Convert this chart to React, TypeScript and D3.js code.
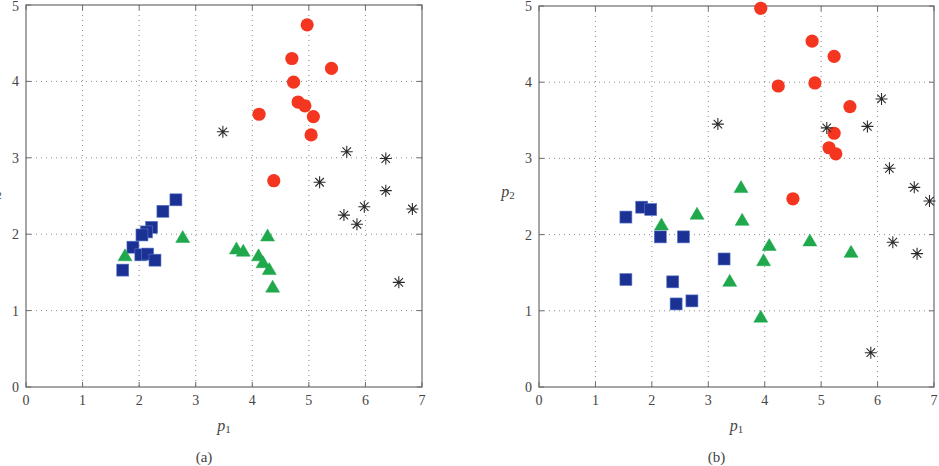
import React from "react";
import * as d3 from "d3";

// ---------- data ----------
const xTicks = [0, 1, 2, 3, 4, 5, 6, 7];
const yTicks = [0, 1, 2, 3, 4, 5];

// panel (a)
const redAx = [4.97, 4.70, 5.40, 4.73, 4.81, 4.93, 5.08, 4.12, 5.04, 4.38];
const redAy = [4.74, 4.30, 4.17, 3.99, 3.73, 3.68, 3.54, 3.57, 3.30, 2.70];
const starAx = [3.48, 5.67, 6.36, 5.19, 6.36, 5.98, 6.83, 5.62, 5.85, 6.59];
const starAy = [3.34, 3.08, 2.99, 2.68, 2.57, 2.36, 2.33, 2.25, 2.13, 1.37];
const blueAx = [2.65, 2.42, 2.22, 2.13, 2.05, 1.89, 2.03, 2.15, 2.28, 1.71];
const blueAy = [2.45, 2.30, 2.09, 2.03, 1.99, 1.83, 1.73, 1.74, 1.66, 1.53];
const greenAx = [1.75, 2.77, 4.27, 3.72, 3.84, 4.11, 4.19, 4.30, 4.36];
const greenAy = [1.73, 1.97, 1.99, 1.82, 1.79, 1.73, 1.64, 1.55, 1.32];

// panel (b)
const redBx = [3.93, 4.84, 5.23, 4.24, 4.89, 5.51, 5.23, 5.14, 5.26, 4.50];
const redBy = [4.97, 4.54, 4.34, 3.95, 3.99, 3.68, 3.33, 3.14, 3.06, 2.47];
const starBx = [3.17, 6.07, 5.10, 5.82, 6.21, 6.65, 6.92, 6.27, 6.70, 5.88];
const starBy = [3.45, 3.78, 3.40, 3.42, 2.87, 2.62, 2.44, 1.90, 1.75, 0.45];
const blueBx = [1.54, 1.82, 1.98, 2.15, 2.56, 3.28, 1.54, 2.37, 2.43, 2.71];
const blueBy = [2.23, 2.36, 2.33, 1.97, 1.97, 1.68, 1.41, 1.38, 1.09, 1.13];
const greenBx = [2.17, 2.80, 3.60, 3.58, 4.08, 4.80, 3.98, 5.53, 3.38, 3.93];
const greenBy = [2.14, 2.28, 2.20, 2.63, 1.87, 1.93, 1.67, 1.78, 1.40, 0.93];

const panels = [
  { caption: "(a)", left: 26, right: 422, top: 5, bottom: 387,
    red: [redAx, redAy], star: [starAx, starAy], blue: [blueAx, blueAy], green: [greenAx, greenAy] },
  { caption: "(b)", left: 539, right: 934, top: 6, bottom: 387,
    red: [redBx, redBy], star: [starBx, starBy], blue: [blueBx, blueBy], green: [greenBx, greenBy] },
];

const FONT = "Liberation Serif, DejaVu Serif, serif";
const TXT = "#444";
const AXIS = "#6a6a6a";

const zip = (xy: number[][]) => xy[0].map((x, i) => [x, xy[1][i]]);

function Panel({ p }: { p: any }) {
  const x = d3.scaleLinear().domain([0, 7]).range([p.left, p.right]);
  const y = d3.scaleLinear().domain([0, 5]).range([p.bottom, p.top]);
  const tick = 5;
  const sq = 12;
  const triW = 14, triH = 12;
  const r = 6.6;
  const sr = 6;
  const midX = (p.left + p.right) / 2;
  const ts = { fontFamily: FONT };
  return (
    <g>
      {/* grid */}
      {xTicks.slice(1, -1).map((t) => (
        <line key={"gx" + t} x1={x(t)} x2={x(t)} y1={p.top} y2={p.bottom}
          stroke="#8a8a8a" strokeWidth={1} strokeDasharray="1,4" />
      ))}
      {yTicks.slice(1, -1).map((t) => (
        <line key={"gy" + t} y1={y(t)} y2={y(t)} x1={p.left} x2={p.right}
          stroke="#8a8a8a" strokeWidth={1} strokeDasharray="1,4" />
      ))}
      {/* ticks */}
      {xTicks.map((t) => (
        <g key={"tx" + t}>
          <line x1={x(t)} x2={x(t)} y1={p.bottom} y2={p.bottom - tick} stroke={AXIS} />
          <line x1={x(t)} x2={x(t)} y1={p.top} y2={p.top + tick} stroke={AXIS} />
          <text x={x(t)} y={p.bottom + 18} textAnchor="middle" style={ts}
            fontSize={14} fill={TXT}>{t}</text>
        </g>
      ))}
      {yTicks.map((t) => (
        <g key={"ty" + t}>
          <line y1={y(t)} y2={y(t)} x1={p.left} x2={p.left + tick} stroke={AXIS} />
          <line y1={y(t)} y2={y(t)} x1={p.right} x2={p.right - tick} stroke={AXIS} />
          <text x={p.left - 7} y={Math.max(y(t) + 5, 11)} textAnchor="end" style={ts}
            fontSize={14} fill={TXT}>{t}</text>
        </g>
      ))}
      {/* frame */}
      <rect x={p.left} y={p.top} width={p.right - p.left} height={p.bottom - p.top}
        fill="none" stroke={AXIS} strokeWidth={1.2} />
      {/* blue squares */}
      {zip(p.blue).map(([a, b], i) => (
        <rect key={"b" + i} x={x(a) - sq / 2} y={y(b) - sq / 2} width={sq} height={sq}
          fill="#1b3294" stroke="#5d78c8" strokeWidth={0.6} />
      ))}
      {/* green triangles */}
      {zip(p.green).map(([a, b], i) => {
        const cx = x(a), cy = y(b);
        return (
          <path key={"g" + i}
            d={`M${cx},${cy - triH / 2}L${cx + triW / 2},${cy + triH / 2}L${cx - triW / 2},${cy + triH / 2}Z`}
            fill="#1fa84c" stroke="#1fa84c" strokeWidth={0.5} strokeLinejoin="round" />
        );
      })}
      {/* red circles */}
      {zip(p.red).map(([a, b], i) => (
        <circle key={"r" + i} cx={x(a)} cy={y(b)} r={r} fill="#f4351f" />
      ))}
      {/* stars */}
      {zip(p.star).map(([a, b], i) => {
        const cx = x(a), cy = y(b);
        const d = sr * Math.SQRT1_2;
        return (
          <path key={"s" + i}
            d={`M${cx - sr},${cy}L${cx + sr},${cy}M${cx},${cy - sr}L${cx},${cy + sr}M${cx - d},${cy - d}L${cx + d},${cy + d}M${cx - d},${cy + d}L${cx + d},${cy - d}`}
            stroke="#2b2b2b" strokeWidth={1.1} fill="none" />
        );
      })}
      {/* axis labels */}
      <text x={midX} y={431} textAnchor="middle" style={ts} fontSize={16}
        fontStyle="italic" fill={TXT}>
        p<tspan fontSize={11} fontStyle="normal" dy={2}>1</tspan>
      </text>
      <text x={p.left - 31} y={197} textAnchor="middle"
        style={ts} fontSize={16} fontStyle="italic" fill={TXT}>
        p<tspan fontSize={11} fontStyle="normal" dy={2}>2</tspan>
      </text>
      <text x={midX - 20} y={462} textAnchor="middle" style={ts} fontSize={15} fill={TXT}>
        {p.caption}
      </text>
    </g>
  );
}

export default function App() {
  return (
    <svg width={939} height={466} style={{ position: "absolute", left: 0, top: 0, background: "#fff" }}>
      <rect width={939} height={466} fill="#fff" />
      {panels.map((p) => (
        <Panel key={p.caption} p={p} />
      ))}
    </svg>
  );
}
